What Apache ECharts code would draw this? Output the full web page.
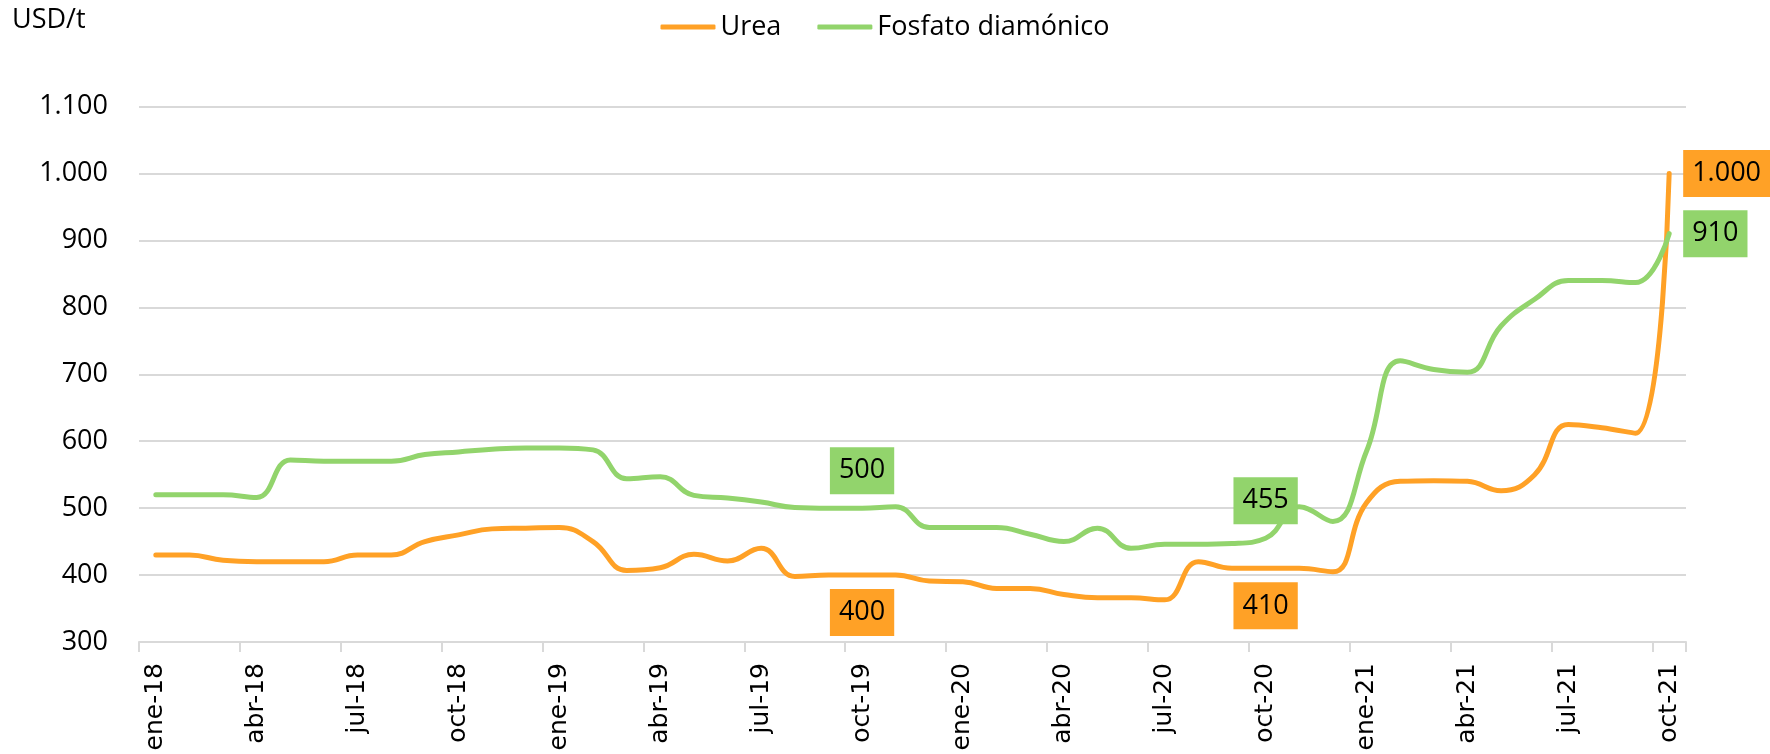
<!DOCTYPE html>
<html>
<head>
<meta charset="utf-8">
<script src="https://cdn.jsdelivr.net/npm/echarts@6/dist/echarts.min.js"></script>
<style>
html, body { margin: 0; padding: 0; background: #fff; }
#chart { width: 1770px; height: 754px; }
</style>
</head>
<body>
<div id="chart"></div>
<script>
// meses (eje x)
const months = [
    'ene-18', 'feb-18', 'mar-18', 'abr-18', 'may-18', 'jun-18', 'jul-18', 'ago-18', 'sep-18', 'oct-18', 'nov-18', 'dic-18',
    'ene-19', 'feb-19', 'mar-19', 'abr-19', 'may-19', 'jun-19', 'jul-19', 'ago-19', 'sep-19', 'oct-19', 'nov-19', 'dic-19',
    'ene-20', 'feb-20', 'mar-20', 'abr-20', 'may-20', 'jun-20', 'jul-20', 'ago-20', 'sep-20', 'oct-20', 'nov-20', 'dic-20',
    'ene-21', 'feb-21', 'mar-21', 'abr-21', 'may-21', 'jun-21', 'jul-21', 'ago-21', 'sep-21', 'oct-21'
]

const urea = [
    430, 430, 422, 420, 420, 420, 430, 430, 450, 460, 469, 470,
    471, 450, 407, 411, 431, 421, 440, 398, 400, 400, 400, 391,
    390, 380, 380, 371, 366, 366, 363, 420, 410, 410, 410, 405,
    508, 540, 541, 540, 526, 550, 625, 620, 612, 1000
]

const fosfato = [
    520, 520, 520, 516, 572, 570, 570, 570, 580, 584, 588, 590,
    590, 587, 544, 547, 519, 515, 509, 501, 500, 500, 502, 471,
    471, 471, 461, 450, 470, 440, 446, 446, 447, 455, 502, 480,
    585, 720, 707, 703, 772, 812, 840, 840, 837, 910
]

// puntos con etiqueta de valor
const labeledIdx = [21, 33, 45]

const yMin = 300
const yMax = 1100
const yStep = 100

const orange = '#FFA126'
const green = '#92D46C'
const mainFont = '"Open Sans", sans-serif'

const fmt = v => String(v).replace(/\B(?=(\d{3})+(?!\d))/g, '.')

const chart = echarts.init(document.getElementById('chart'))

function lineSeries(name, values, color, labelPos) {
    return {
        name: name,
        type: 'line',
        smooth: 0.45,
        symbol: 'circle',
        symbolSize: 0,
        showSymbol: true,
        showAllSymbol: true,
        lineStyle: { color: color, width: 5, cap: 'round' },
        itemStyle: { color: color },
        label: {
            show: false,
            formatter: p => fmt(p.value),
            backgroundColor: color,
            color: '#000',
            fontFamily: mainFont,
            fontSize: 27,
            lineHeight: 29,
            padding: [9, 9, 9, 9],
            distance: 14
        },
        emphasis: { disabled: true },
        data: values.map((v, i) => labeledIdx.includes(i)
            ? { value: v, label: { show: true, position: i === values.length - 1 ? 'right' : labelPos } }
            : v)
    }
}

chart.setOption({
    animation: false,
    backgroundColor: '#fff',
    graphic: [{
        type: 'text',
        left: 12,
        top: 7,
        style: {
            text: 'USD/t',
            fontFamily: mainFont,
            fontSize: 27,
            fill: '#000'
        }
    }],
    legend: {
        top: 5,
        left: 'center',
        icon: 'roundRect',
        itemWidth: 55,
        itemHeight: 5,
        itemGap: 36,
        selectedMode: false,
        textStyle: { fontFamily: mainFont, fontSize: 27, color: '#000', lineHeight: 34 },
        data: ['Urea', 'Fosfato diamónico']
    },
    grid: {
        left: 139,
        right: 84,
        top: 106.5,
        bottom: 112,
        containLabel: false,
        outerBoundsMode: 'none'
    },
    xAxis: {
        type: 'category',
        data: months,
        boundaryGap: true,
        axisLine: { show: true, lineStyle: { color: '#D9D9D9', width: 2 } },
        axisTick: { show: true, interval: 2, length: 10, lineStyle: { color: '#D9D9D9', width: 2 } },
        axisLabel: {
            interval: 2,
            rotate: 90,
            margin: 21,
            fontFamily: '"DejaVu Sans", sans-serif',
            fontSize: 25,
            color: '#000',
            hideOverlap: false
        },
        splitLine: { show: false }
    },
    yAxis: {
        type: 'value',
        min: yMin,
        max: yMax,
        interval: yStep,
        axisLine: { show: false },
        axisTick: { show: false },
        axisLabel: {
            margin: 31,
            fontFamily: mainFont,
            fontSize: 27,
            color: '#000',
            formatter: v => fmt(v)
        },
        splitLine: { lineStyle: { color: '#D9D9D9', width: 2 } }
    },
    series: [
        lineSeries('Urea', urea, orange, 'bottom'),
        lineSeries('Fosfato diamónico', fosfato, green, 'top')
    ]
})
</script>
</body>
</html>
